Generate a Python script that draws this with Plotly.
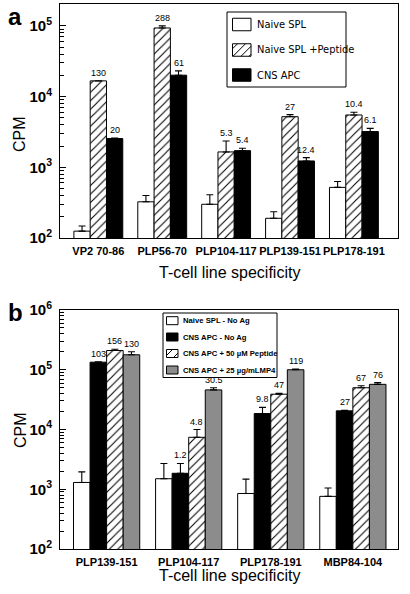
import math
import plotly.graph_objects as go

# ---------------- data: panel a ----------------
a_categories = ["VP2 70-86", "PLP56-70", "PLP104-117", "PLP139-151", "PLP178-191"]
a_naive = [125, 325, 300, 190, 520]
a_naive_top = [148, 400, 410, 235, 630]
a_pep = [16700, 93500, 1650, 5200, 5500]
a_pep_top = [16700, 100000, 2350, 5560, 6000]
a_cns = [2550, 20100, 1720, 1230, 3200]
a_cns_top = [2600, 23100, 1860, 1370, 3550]
a_pep_labels = ["130", "288", "5.3", "27", "10.4"]
a_cns_labels = ["20", "61", "5.4", "12.4", "6.1"]
a_series_names = ["Naive SPL", "Naive SPL +Peptide", "CNS APC"]

# ---------------- data: panel b ----------------
b_categories = ["PLP139-151", "PLP104-117", "PLP178-191", "MBP84-104"]
b_naive = [1300, 1500, 850, 760]
b_naive_top = [1950, 2700, 1480, 1050]
b_cns = [134000, 1850, 18500, 20500]
b_cns_top = [136000, 2700, 23500, 21000]
b_pep = [210000, 7400, 39000, 50000]
b_pep_top = [220000, 10000, 40500, 54000]
b_lmp = [178000, 46000, 100000, 57000]
b_lmp_top = [200000, 50000, 103000, 61000]
b_cns_labels = ["103", "1.2", "9.8", "27"]
b_pep_labels = ["156", "4.8", "47", "67"]
b_lmp_labels = ["130", "30.5", "119", "76"]
b_series_names = ["Naive SPL - No Ag", "CNS APC - No Ag",
                  "CNS APC + 50 µM Peptide", "CNS APC + 25 µg/mLMP4"]

a_ytickvals = [1e2, 1e3, 1e4, 1e5]
a_yticktext = ["10<sup>2</sup>", "10<sup>3</sup>", "10<sup>4</sup>", "10<sup>5</sup>"]
b_ytickvals = [1e2, 1e3, 1e4, 1e5, 1e6]
b_yticktext = ["10<sup>2</sup>", "10<sup>3</sup>", "10<sup>4</sup>", "10<sup>5</sup>", "10<sup>6</sup>"]

FONT = "Liberation Sans, Arial, Helvetica, sans-serif"
NARROW = "Liberation Sans Narrow, Arial Narrow, DejaVu Sans Condensed, Liberation Sans, sans-serif"
GREY = "#8c8c8c"
W, H = 410, 594

fig = go.Figure()


def style(kind):
    if kind == "white":
        return dict(color="white", line=dict(color="black", width=1))
    if kind == "black":
        return dict(color="black", line=dict(color="black", width=1))
    if kind == "grey":
        return dict(color=GREY, line=dict(color="black", width=1))
    return dict(color="white", line=dict(color="black", width=1),
                pattern=dict(shape="/", fgcolor="black", bgcolor="white",
                             size=6, solidity=0.18, fillmode="replace"))


def add_panel(series, names, kinds, labels, w, xa, ya):
    n = len(series)
    anns = []
    for i, ((vals, tops), name, kind) in enumerate(zip(series, names, kinds)):
        off = -n * w / 2 + i * w
        xs = list(range(len(vals)))
        fig.add_trace(go.Bar(
            x=xs, y=vals, name=name, width=w, offset=off,
            marker=style(kind), xaxis=xa, yaxis=ya, showlegend=False,
            error_y=dict(type="data", symmetric=False,
                         array=[t - v for t, v in zip(tops, vals)],
                         arrayminus=[0] * len(vals), color="black",
                         thickness=1.1, width=3.5),
        ))
        if labels[i] is not None:
            for j, lab in enumerate(labels[i]):
                anns.append(dict(x=xs[j] + off + w / 2, y=math.log10(tops[j]),
                                 xref=xa, yref=ya, text=lab, showarrow=False,
                                 yanchor="bottom", yshift=1,
                                 font=dict(family=FONT, size=9, color="black")))
    return anns


annotations = []
annotations += add_panel(
    [(a_naive, a_naive_top), (a_pep, a_pep_top), (a_cns, a_cns_top)],
    a_series_names, ["white", "hatch", "black"],
    [None, a_pep_labels, a_cns_labels], 0.255, "x", "y")
annotations += add_panel(
    [(b_naive, b_naive_top), (b_cns, b_cns_top), (b_pep, b_pep_top), (b_lmp, b_lmp_top)],
    b_series_names, ["white", "black", "hatch", "grey"],
    [None, b_cns_labels, b_pep_labels, b_lmp_labels], 0.2017, "x2", "y2")


# ---------------- hand-drawn legend boxes (pixel layout -> paper) ----------------
def px(x):
    return x / W


def py(y):
    return 1 - y / H


shapes = []


def rect(x0, y0, x1, y1, fill, lw=1):
    shapes.append(dict(type="rect", xref="paper", yref="paper",
                       x0=px(x0), x1=px(x1), y0=py(y1), y1=py(y0),
                       fillcolor=fill, line=dict(color="black", width=lw), layer="above"))


def hatch(x0, y0, x1, y1, start, step):
    c = x0 + y0 + start
    while c < x1 + y1:
        xa = max(x0, c - y1)
        xb = min(x1, c - y0)
        if xb > xa:
            shapes.append(dict(type="line", xref="paper", yref="paper",
                               x0=px(xa), y0=py(c - xa), x1=px(xb), y1=py(c - xb),
                               line=dict(color="black", width=1), layer="above"))
        c += step


def legend(names, kinds, box, rows, sw_x, sw_w, sw_h, text_x, font, hatch_start, hatch_step):
    rect(*box, "white")
    for name, kind, yc in zip(names, kinds, rows):
        x0, x1 = sw_x, sw_x + sw_w
        y0, y1 = yc - sw_h / 2, yc + sw_h / 2
        fill = {"white": "white", "black": "black", "grey": GREY, "hatch": "white"}[kind]
        rect(x0, y0, x1, y1, fill)
        if kind == "hatch":
            hatch(x0, y0, x1, y1, hatch_start, hatch_step)
        annotations.append(dict(x=px(text_x), y=py(yc), xref="paper", yref="paper",
                                text=name, showarrow=False, xanchor="left",
                                yanchor="middle", font=font))


legend(a_series_names, ["white", "hatch", "black"],
       (227, 12, 346, 87), [24.5, 50, 75], 232.5, 18.5, 12.5, 255,
       dict(family=NARROW, size=11, color="black"), 5, 8)
legend(b_series_names, ["white", "black", "hatch", "grey"],
       (163, 313, 277, 377.5), [320.7, 337, 353.5, 370], 166.5, 11.5, 8, 180.5,
       dict(family=FONT, size=7.7, color="black", weight="bold"), 6, 9)

# axis titles / panel letters
title_font = dict(family=FONT, size=16, color="black")
annotations += [
    dict(x=px(229), y=py(272), xref="paper", yref="paper", text="T-cell line specificity",
         showarrow=False, font=title_font, xanchor="center", yanchor="middle"),
    dict(x=px(229), y=py(575), xref="paper", yref="paper", text="T-cell line specificity",
         showarrow=False, font=title_font, xanchor="center", yanchor="middle"),
    dict(x=px(20), y=py(134), xref="paper", yref="paper", text="CPM", textangle=-90,
         showarrow=False, font=title_font, xanchor="center", yanchor="middle"),
    dict(x=px(20), y=py(430), xref="paper", yref="paper", text="CPM", textangle=-90,
         showarrow=False, font=title_font, xanchor="center", yanchor="middle"),
    dict(x=px(6), y=py(1), xref="paper", yref="paper", text="<b>a</b>",
         showarrow=False, font=dict(family=FONT, size=24, color="black"),
         xanchor="left", yanchor="top"),
    dict(x=px(6), y=py(297), xref="paper", yref="paper", text="<b>b</b>",
         showarrow=False, font=dict(family=FONT, size=24, color="black"),
         xanchor="left", yanchor="top"),
]

xdom = [60 / W, 398 / W]
common_x = dict(domain=xdom, showline=True, linecolor="black", linewidth=1, mirror=True,
                ticks="", showgrid=False, zeroline=False, automargin=False,
                tickfont=dict(family=FONT, size=11, color="black", weight="bold"))
common_y = dict(type="log", showline=True, linecolor="black", linewidth=1, mirror=True,
                ticks="inside", ticklen=6, tickcolor="black", showgrid=False, zeroline=False,
                automargin=False,
                tickfont=dict(family=FONT, size=15, color="black", weight="bold"),
                ticklabelstandoff=4,
                minor=dict(ticks="inside", ticklen=4, tickcolor="black", dtick="D1", showgrid=False))

fig.update_layout(
    width=W, height=H,
    margin=dict(l=0, r=0, t=0, b=0, autoexpand=False),
    paper_bgcolor="white", plot_bgcolor="white",
    barmode="overlay",
    showlegend=False,
    font=dict(family=FONT, color="black"),
    xaxis=dict(common_x, anchor="y", range=[-0.60, 4.69],
               tickvals=list(range(len(a_categories))), ticktext=a_categories,
               ticklabelstandoff=3),
    yaxis=dict(common_y, anchor="x", domain=[py(238), py(4)], range=[2, 5.31],
               tickvals=a_ytickvals, ticktext=a_yticktext),
    xaxis2=dict(common_x, anchor="y2", range=[-0.568, 3.55],
                tickvals=list(range(len(b_categories))), ticktext=b_categories,
                ticklabelstandoff=3),
    yaxis2=dict(common_y, anchor="x2", domain=[py(549), py(310)], range=[2, 6],
                tickvals=b_ytickvals, ticktext=b_yticktext),
    annotations=annotations,
    shapes=shapes,
)

fig.write_html("out.html", config={"displayModeBar": False},
               post_script="document.body.style.margin='0px';document.body.style.overflow='hidden';")
